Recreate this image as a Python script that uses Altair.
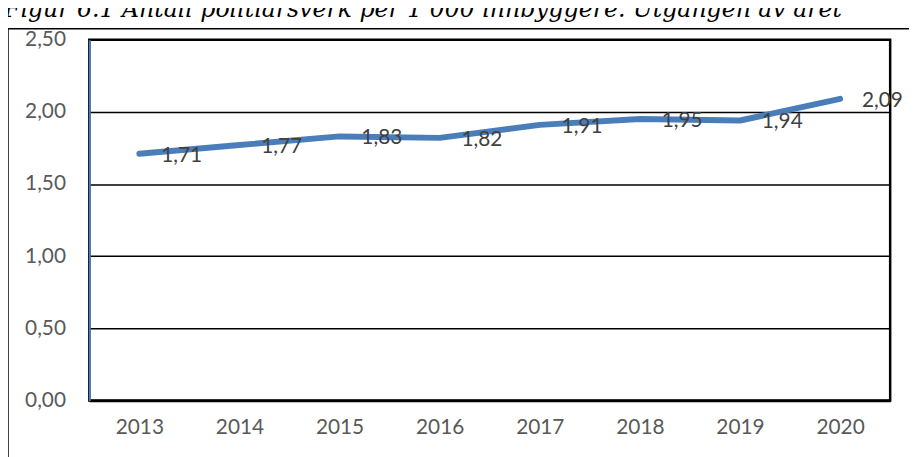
import altair as alt
import pandas as pd

years = ["2013", "2014", "2015", "2016", "2017", "2018", "2019", "2020"]
values = [1.71, 1.77, 1.83, 1.82, 1.91, 1.95, 1.94, 2.09]
y_ticks = [0.0, 0.5, 1.0, 1.5, 2.0, 2.5]
title_text = "Figur 6.1 Antall politiårsverk per 1 000 innbyggere. Utgangen av året"

df = pd.DataFrame({"year": years, "v": values})
one = pd.DataFrame({"t": [title_text]})

FONT = "Lato"
BLUE = "#4a7ebb"

x_enc = alt.X("year:O", scale=alt.Scale(type="point", padding=0.5),
              axis=alt.Axis(title=None, labelAngle=0, ticks=False, labelFontSize=21,
                            labelColor="#595959", labelFont=FONT, labelPadding=16,
                            domainColor="black", domainWidth=2.5, grid=False))
y_enc = alt.Y("v:Q", scale=alt.Scale(domain=[0, 2.5], nice=False, zero=True),
              axis=alt.Axis(title=None, values=y_ticks, ticks=False, labelFontSize=21,
                            labelColor="#595959", labelFont=FONT, labelPadding=24,
                            labelExpr="replace(format(datum.value, '.2f'), '.', ',')",
                            domainColor=BLUE, domainWidth=2,
                            grid=True, gridColor="black", gridWidth=1.5))

base = alt.Chart(df)

line = base.mark_line(color=BLUE, strokeWidth=6, strokeCap="round", strokeJoin="round").encode(
    x=x_enc, y=y_enc)

labels = base.transform_calculate(
    lab="replace(format(datum.v, '.2f'), '.', ',')"
).mark_text(align="left", baseline="middle", dx=22, dy=2, fontSize=21, font=FONT,
            color="#404040").encode(x="year:O", y="v:Q", text="lab:N")

title = alt.Chart(one).mark_text(align="left", baseline="alphabetic", fontSize=23.8,
                                 font="DejaVu Serif", fontStyle="italic", color="black").encode(
    x=alt.value(-86), y=alt.value(-23), text="t:N")

frame_left = alt.Chart(one).mark_rule(color="black", strokeWidth=1.5).encode(
    x=alt.value(-82), y=alt.value(-11), y2=alt.value(440))
frame_top = alt.Chart(one).mark_rule(color="black", strokeWidth=1.5).encode(
    x=alt.value(-82), x2=alt.value(900), y=alt.value(-11))

chart = alt.layer(frame_left, frame_top, title, line, labels).properties(
    width=808, height=364,
    padding={"left": 82, "top": 30, "right": 19, "bottom": 55},
    autosize=alt.AutoSizeParams(type="none"),
).configure_view(stroke="black", strokeWidth=2.5)

chart.save("out.html", embed_options={"renderer": "svg", "actions": False})
